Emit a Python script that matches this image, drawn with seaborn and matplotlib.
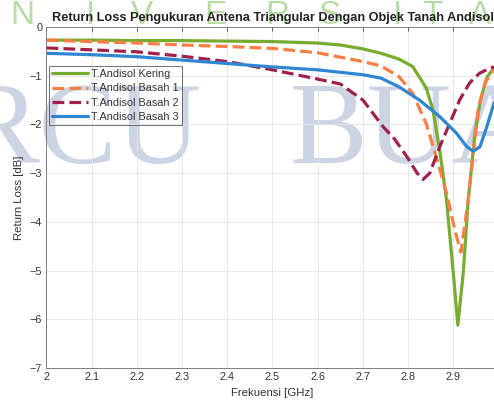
import numpy as np
import pandas as pd
import seaborn as sns
import matplotlib.pyplot as plt

# === data ===
series_names = ["T.Andisol Kering", "T.Andisol Basah 1", "T.Andisol Basah 2", "T.Andisol Basah 3"]

freq_kering = [2.0, 2.1, 2.2, 2.3, 2.4, 2.5, 2.6, 2.65, 2.7, 2.74, 2.78, 2.81, 2.84, 2.855,
               2.87, 2.885, 2.9, 2.91, 2.922, 2.933, 2.948, 2.96, 2.975, 2.99]
rl_kering = [-0.27, -0.27, -0.28, -0.28, -0.29, -0.30, -0.33, -0.37, -0.45, -0.54, -0.66, -0.81,
             -1.25, -1.70, -2.53, -3.55, -5.05, -6.12, -5.05, -3.55, -2.18, -1.50, -1.02, -0.85]

freq_basah1 = [2.0, 2.1, 2.2, 2.3, 2.4, 2.5, 2.6, 2.7, 2.74, 2.78, 2.81, 2.84, 2.865, 2.885,
               2.905, 2.917, 2.933, 2.945, 2.955, 2.97, 2.99]
rl_basah1 = [-0.27, -0.30, -0.33, -0.37, -0.40, -0.44, -0.53, -0.71, -0.80, -1.02, -1.36, -1.98,
             -2.75, -3.41, -4.23, -4.62, -3.55, -2.53, -1.70, -1.15, -0.86]

freq_basah2 = [2.0, 2.1, 2.2, 2.3, 2.4, 2.5, 2.6, 2.65, 2.7, 2.745, 2.77, 2.8, 2.82, 2.833,
               2.848, 2.87, 2.892, 2.914, 2.936, 2.958, 2.98, 2.99]
rl_basah2 = [-0.43, -0.47, -0.51, -0.60, -0.71, -0.88, -1.07, -1.17, -1.50, -2.05, -2.30, -2.70,
             -3.00, -3.13, -3.00, -2.46, -1.98, -1.50, -1.15, -0.95, -0.85, -0.82]

freq_basah3 = [2.0, 2.1, 2.2, 2.3, 2.4, 2.5, 2.6, 2.7, 2.74, 2.78, 2.825, 2.87, 2.907, 2.93,
               2.944, 2.959, 2.974, 2.99]
rl_basah3 = [-0.54, -0.57, -0.61, -0.68, -0.75, -0.82, -0.88, -0.98, -1.05, -1.23, -1.50, -1.84,
             -2.18, -2.46, -2.55, -2.46, -2.05, -1.56]

x_ticks = [2, 2.1, 2.2, 2.3, 2.4, 2.5, 2.6, 2.7, 2.8, 2.9]
y_ticks = [0, -1, -2, -3, -4, -5, -6, -7]

colors = ["#77AC30", "#FA7F45", "#A2214A", "#2F86D2"]

# === build long table ===
parts = []
for name, f, v in zip(series_names,
                      [freq_kering, freq_basah1, freq_basah2, freq_basah3],
                      [rl_kering, rl_basah1, rl_basah2, rl_basah3]):
    parts.append(pd.DataFrame({"freq": f, "rl": v, "seri": name}))
df = pd.concat(parts, ignore_index=True)

sns.set_style("white")
plt.rcParams["font.family"] = ["Liberation Sans", "DejaVu Sans"]

fig = plt.figure(figsize=(4.94, 4.05), dpi=100)
ax = fig.add_axes([0.0941, 0.0914, 0.915, 0.842])
ax.set_facecolor("none")

# watermark (behind the axes)
for ch, xc in zip("NIVERSITA", [22, 90, 142, 215, 277, 330, 397, 432, 480]):
    fig.text(xc / 494, 1 - 15 / 405, ch, ha="center", va="center", fontsize=24,
             color="#b9dca6", zorder=-2, family="Liberation Sans")
fig.text(-38 / 494, 1 - 163 / 405, "RCU", ha="left", va="baseline", fontsize=84,
         color="#cdd4e4", zorder=-2, family="Liberation Serif")
fig.text(290 / 494, 1 - 163 / 405, "BUA", ha="left", va="baseline", fontsize=84,
         color="#cdd4e4", zorder=-2, family="Liberation Serif")

sns.lineplot(data=df, x="freq", y="rl", hue="seri", style="seri",
             palette=dict(zip(series_names, colors)),
             dashes={series_names[0]: "", series_names[1]: (3.7, 1.6),
                     series_names[2]: (3.7, 1.6), series_names[3]: ""},
             estimator=None, sort=False, linewidth=2.3, ax=ax)

ax.set_xlim(2, 3)
ax.set_ylim(-7, 0)
ax.set_xticks(x_ticks)
ax.set_xticklabels([str(t) for t in x_ticks])
ax.set_yticks(y_ticks)
ax.grid(True, color="#e4e4e4", linewidth=0.6)
ax.set_axisbelow(True)
ax.tick_params(direction="in", length=3, width=0.6, colors="#4d4d4d",
               labelsize=7.8, labelcolor="#333333", top=True, right=True, pad=3)
for s in ax.spines.values():
    s.set_color("#7f7f7f")
    s.set_linewidth(0.7)

ax.set_xlabel("Frekuensi [GHz]", fontsize=8.2, color="#333333", labelpad=4)
ax.set_ylabel("Return Loss [dB]", fontsize=8.2, color="#333333", labelpad=4)
ax.set_title("Return Loss Pengukuran Antena Triangular Dengan Objek Tanah Andisol",
             fontsize=9.2, fontweight="bold", color="#222222", pad=4)

leg = ax.legend(loc="upper left", bbox_to_anchor=(0.005, 0.886), borderaxespad=0,
                fontsize=7.8, handlelength=3.3, labelspacing=0.4, handletextpad=0.3,
                fancybox=False, frameon=True, borderpad=0.3)
leg.get_frame().set_facecolor("none")
leg.get_frame().set_edgecolor("#333333")
leg.get_frame().set_linewidth(0.6)
for t in leg.get_texts():
    t.set_color("#333333")

fig.savefig("out.png", dpi=100)
